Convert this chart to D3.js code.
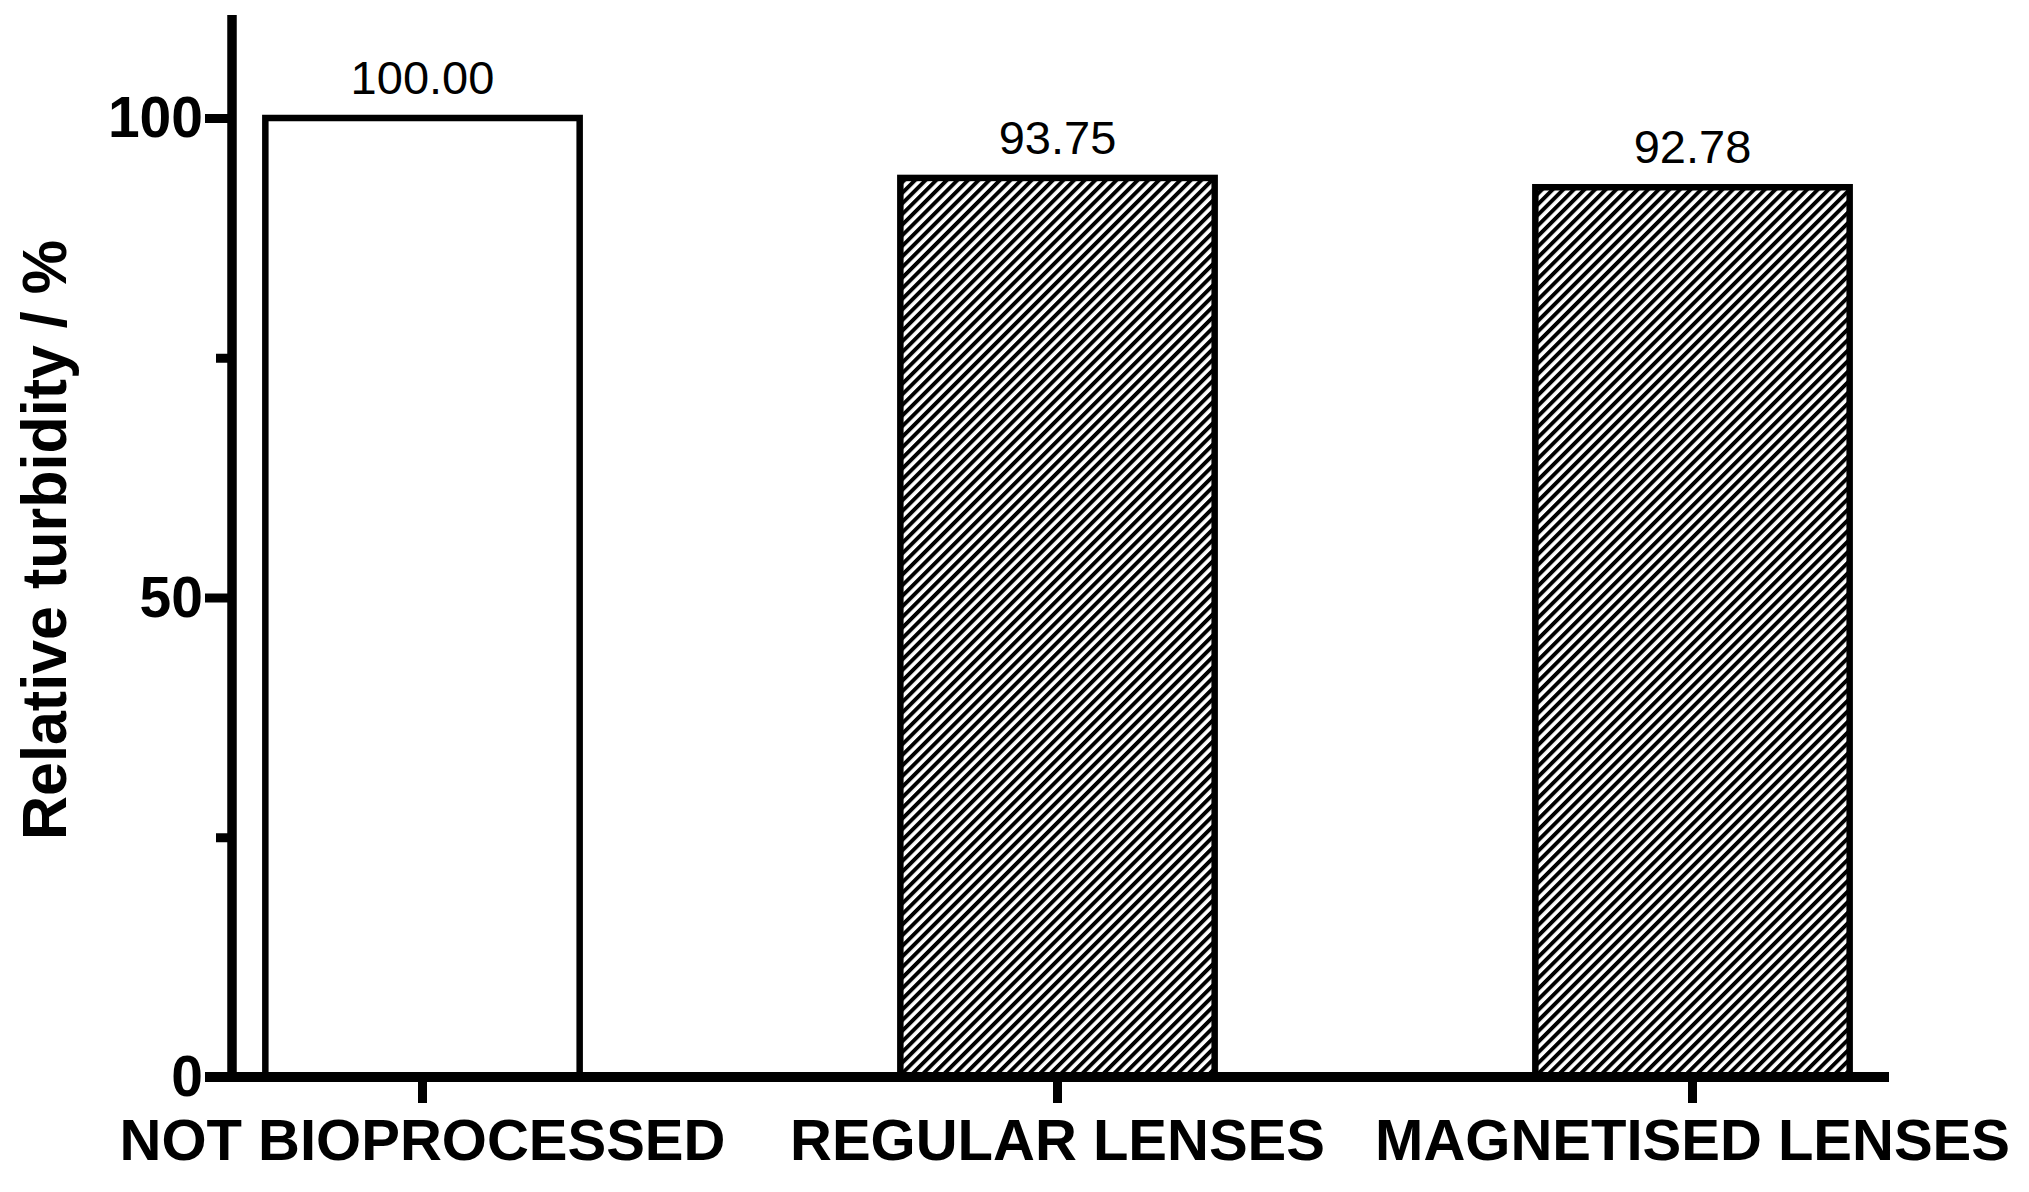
<!doctype html>
<html>
<head>
    <meta charset="UTF-8">
    <title>Relative turbidity</title>
    <script src="https://d3js.org/d3.v7.min.js"></script>
    <style>
        body { margin: 0; background: #fff; }
        text { font-family: "Liberation Sans", Arial, sans-serif; }
    </style>
</head>
<body>
<script>
    var categories = ["NOT BIOPROCESSED", "REGULAR LENSES", "MAGNETISED LENSES"];
    var values = [100.00, 93.75, 92.78];
    var fills = ["plain", "hatch", "hatch"];
    var majorTicks = [0, 50, 100];
    var minorTicks = [25, 75];

    var w = 2029, h = 1192;

    var svg = d3.select("body").append("svg")
        .attr("width", w)
        .attr("height", h);

    // hatch pattern for the lens bars
    var pat = svg.append("defs").append("pattern")
        .attr("id", "hatch")
        .attr("patternUnits", "userSpaceOnUse")
        .attr("width", 7.5)
        .attr("height", 7.5)
        .attr("patternTransform", "rotate(45)");
    pat.append("rect").attr("width", 7.5).attr("height", 7.5).attr("fill", "#fff");
    pat.append("rect").attr("x", 0).attr("width", 3.9).attr("height", 7.5).attr("fill", "#000");

    var x = d3.scaleBand()
        .domain(categories)
        .range([105, 2010])
        .paddingInner(0.505)
        .paddingOuter(0.2525);

    var y = d3.scaleLinear()
        .domain([0, 100])
        .range([1077, 118]);

    // bars
    svg.selectAll("rect.bar")
        .data(values)
        .enter()
        .append("rect")
        .attr("class", "bar")
        .attr("x", function(d, i){ return x(categories[i]); })
        .attr("y", function(d){ return y(d); })
        .attr("width", x.bandwidth())
        .attr("height", function(d){ return y(0) - y(d); })
        .attr("fill", function(d, i){ return fills[i] == "hatch" ? "url(#hatch)" : "#fff"; })
        .attr("stroke", "#000")
        .attr("stroke-width", 6.5);

    // value labels
    svg.selectAll("text.val")
        .data(values)
        .enter()
        .append("text")
        .attr("class", "val")
        .attr("x", function(d, i){ return x(categories[i]) + x.bandwidth() / 2; })
        .attr("y", function(d){ return y(d) - 24; })
        .attr("text-anchor", "middle")
        .attr("font-size", 47)
        .text(function(d){ return d.toFixed(2); });

    // y axis
    var yMajor = svg.append("g")
        .attr("transform", "translate(232,0)")
        .call(d3.axisLeft(y).tickValues(majorTicks).tickSize(27).tickPadding(2));
    yMajor.select(".domain").remove();
    yMajor.selectAll("line").attr("stroke-width", 9);
    yMajor.selectAll("text")
        .attr("font-size", 57)
        .attr("font-weight", "bold")
        .attr("dy", "0.33em");

    var yMinor = svg.append("g")
        .attr("transform", "translate(232,0)")
        .call(d3.axisLeft(y).tickValues(minorTicks).tickSize(16).tickFormat(""));
    yMinor.select(".domain").remove();
    yMinor.selectAll("line").attr("stroke-width", 9);

    svg.append("line")
        .attr("x1", 232).attr("x2", 232)
        .attr("y1", 15).attr("y2", y(0) + 5)
        .attr("stroke", "#000")
        .attr("stroke-width", 9.5);

    // x axis
    var xAxis = svg.append("g")
        .attr("transform", "translate(0," + y(0) + ")")
        .call(d3.axisBottom(x).tickSize(26).tickPadding(16));
    xAxis.select(".domain").remove();
    xAxis.selectAll("line").attr("stroke-width", 9);
    xAxis.selectAll("text")
        .attr("font-size", 58)
        .attr("font-weight", "bold")
        .attr("dy", "0.71em");

    svg.append("line")
        .attr("x1", 205).attr("x2", 1889)
        .attr("y1", y(0)).attr("y2", y(0))
        .attr("stroke", "#000")
        .attr("stroke-width", 10);

    // y title
    svg.append("text")
        .attr("transform", "translate(66,540) rotate(-90)")
        .attr("text-anchor", "middle")
        .attr("font-size", 63)
        .attr("font-weight", "bold")
        .attr("textLength", 600)
        .attr("lengthAdjust", "spacingAndGlyphs")
        .text("Relative turbidity / %");
</script>
</body>
</html>
